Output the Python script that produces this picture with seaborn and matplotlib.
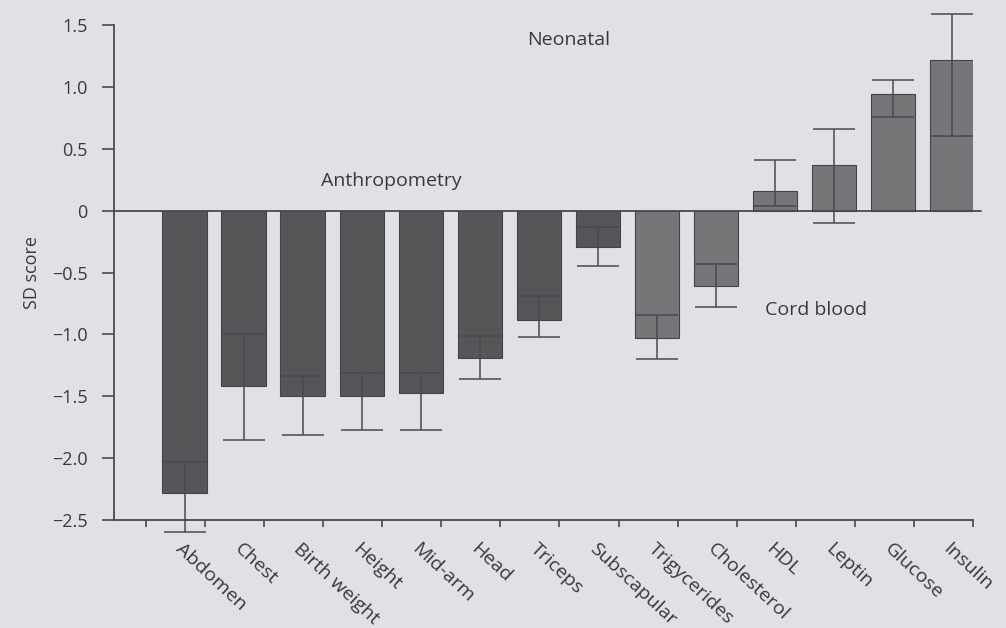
import seaborn as sns
import pandas as pd
import matplotlib.pyplot as plt

# data (SD scores with error limits)
measures = ['Abdomen', 'Chest', 'Birth weight', 'Height', 'Mid-arm', 'Head', 'Triceps',
            'Subscapular', 'Trigycerides', 'Cholesterol', 'HDL', 'Leptin', 'Glucose', 'Insulin']
groups = ['Anthropometry'] * 8 + ['Cord blood'] * 6
sd_score = [-2.28, -1.42, -1.50, -1.50, -1.47, -1.19, -0.88,
            -0.29, -1.03, -0.61, 0.16, 0.37, 0.94, 1.22]
err_lower = [-2.60, -1.85, -1.81, -1.77, -1.77, -1.36, -1.02,
             -0.45, -1.20, -0.78, 0.04, -0.10, 0.76, 0.60]
err_upper = [-2.03, -1.00, -1.34, -1.31, -1.31, -1.01, -0.69,
             -0.13, -0.84, -0.43, 0.41, 0.66, 1.06, 1.59]
y_ticks = [1.5, 1.0, 0.5, 0, -0.5, -1.0, -1.5, -2.0, -2.5]
y_tick_labels = ['1.5', '1.0', '0.5', '0', '\u22120.5', '\u22121.0', '\u22121.5', '\u22122.0', '\u22122.5']

df = pd.DataFrame({'measure': measures, 'group': groups, 'sd': sd_score,
                   'lo': err_lower, 'hi': err_upper})

bg = '#e0e1e4'
ink = '#3a3a3e'
sns.set_style('ticks')
plt.rcParams['font.family'] = ['Open Sans', 'DejaVu Sans']

fig = plt.figure(figsize=(10.06, 6.28), dpi=100, facecolor=bg)
ax = fig.add_axes([0.113, 0.172, 0.854, 0.788])
ax.set_facecolor(bg)

sns.barplot(data=df, x='measure', y='sd', hue='group', dodge=False, width=0.75,
            palette={'Anthropometry': '#56555a', 'Cord blood': '#76757a'},
            edgecolor='#444448', linewidth=0.8, legend=False, ax=ax)

xs = range(len(df))
eb = ax.errorbar(xs, df['sd'], yerr=[df['sd'] - df['lo'], df['hi'] - df['sd']],
                 fmt='none', ecolor='#4a4a4e', elinewidth=1.1, capsize=15, capthick=1.1)
for art in eb.lines[1] + eb.lines[2]:
    art.set_clip_on(False)

ax.axhline(0, color='#4a4a4e', lw=1.3, xmin=0, xmax=1.01, clip_on=False)
ax.set_xlim(-1.2, 13.35)
ax.set_ylim(-2.5, 1.5)
ax.set_yticks(y_ticks)
ax.set_yticklabels(y_tick_labels, fontsize=13, color=ink)
ax.set_ylabel('SD score', fontsize=13, color=ink, labelpad=8)
ax.set_xlabel('')

# category labels at bar centres, separate tick marks at the bar edges
ax.set_xticks(list(xs))
ax.set_xticklabels(measures, rotation=-43, ha='left', va='top', rotation_mode='anchor',
                   fontsize=14, color=ink)
ax.tick_params(axis='x', which='major', length=0, pad=14)
ax.set_xticks([i + 0.35 for i in range(-1, 14)], minor=True)
ax.tick_params(axis='x', which='minor', length=5, width=1.2, color='#4a4a4e', direction='out')
ax.tick_params(axis='y', length=9, width=1.2, color='#4a4a4e', direction='out', pad=10)

sns.despine(ax=ax)
for side in ['left', 'bottom']:
    ax.spines[side].set_color('#4a4a4e')
    ax.spines[side].set_linewidth(1.3)

ax.text(6.5, 1.38, 'Neonatal', fontsize=14, color=ink, ha='center', va='center')
ax.text(3.5, 0.24, 'Anthropometry', fontsize=14, color=ink, ha='center', va='center')
ax.text(10.7, -0.8, 'Cord blood', fontsize=14, color=ink, ha='center', va='center')

fig.savefig('out.png', dpi=100, facecolor=bg)
